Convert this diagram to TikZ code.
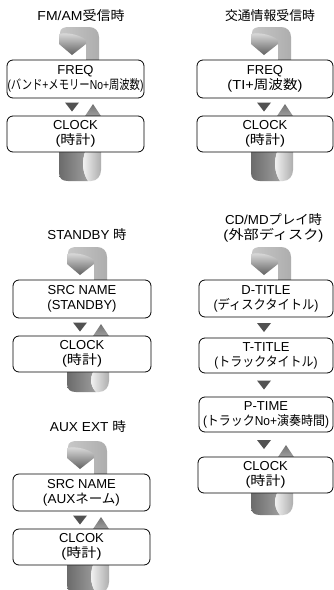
\documentclass[tikz,border=0pt]{standalone}
\usepackage{fontspec}
\setmainfont{Liberation Sans}
\newfontfamily\jp{Noto Sans CJK JP}
\usetikzlibrary{calc}
\newcommand\W[2]{\resizebox{#1pt}{\height}{#2}}
% top ribbon: #1 = arrow tip x, #2 = top of first box
\newcommand\rbtop[2]{%
  \shade[left color=black!22, middle color=black!8, right color=black!32]
    ({#1-12},{#2-23}) -- ({#1-12},{#2-27}) .. controls ({#1-12},{#2-32}) and ({#1-8},{#2-33}) .. ({#1-2},{#2-33})
    -- ({#1+17},{#2-33}) .. controls ({#1+23},{#2-33}) and ({#1+27},{#2-29}) .. ({#1+27},{#2-23})
    -- ({#1+27},{#2}) -- ({#1+14},{#2}) -- ({#1+14},{#2-20}) -- cycle;
  \shade[top color=black!12, bottom color=black!62]
    ({#1-13},{#2-26}) -- ({#1-13},{#2-16}) -- ({#1},{#2-5}) -- ({#1+14},{#2-16})
    -- ({#1+14},{#2-20}) .. controls ({#1+8},{#2-25}) and ({#1-4},{#2-28}) .. cycle;
}
% bottom ribbon: #1 = x, #2 = bottom of last box, #3 = height
\newcommand\rbbot[3]{%
  \shade[left color=black!58, right color=black!38]
    ({#1-13},{#2}) -- ({#1-13},{#2+#3-8}) .. controls ({#1-13},{#2+#3-2}) and ({#1-9},{#2+#3}) .. ({#1-4},{#2+#3})
    -- ({#1+16},{#2+#3}) .. controls ({#1+10},{#2+#3*0.7}) and ({#1+10},{#2+#3*0.3}) .. ({#1+13},{#2}) -- cycle;
  \shade[left color=black!4, right color=black!32]
    ({#1+13},{#2}) .. controls ({#1+10},{#2+#3*0.3}) and ({#1+10},{#2+#3*0.7}) .. ({#1+16},{#2+#3})
    -- ({#1+19},{#2+#3}) .. controls ({#1+25},{#2+#3}) and ({#1+29},{#2+#3-5}) .. ({#1+29},{#2+#3-11})
    -- ({#1+29},{#2}) -- cycle;
}
\newcommand\dtri[2]{\fill[black!68] ({#1-7},{#2}) -- ({#1+7},{#2}) -- ({#1},{#2+9}) -- cycle;}
\newcommand\utri[2]{\shade[top color=black!55, bottom color=black!38] ({#1-8},{#2}) -- ({#1},{#2-12}) -- ({#1+8},{#2}) -- cycle;}
\begin{document}
\begin{tikzpicture}[x=1pt,y=-1pt,
  box/.style={draw=black, line width=0.8pt, rounded corners=6pt, fill=white, align=center,
    inner sep=0pt, font=\fontsize{13}{15}\selectfont},
  ttl/.style={align=center, inner sep=0pt, font=\fontsize{13}{15}\selectfont}]
\fill[white] (0,0) rectangle (334,590);
\useasboundingbox (0,0) rectangle (334,590);

% ribbons
\rbtop{72}{60}\dtri{72}{102.5}\utri{93}{116}\rbbot{72}{152}{29}
\rbtop{264}{60}\dtri{264}{102.5}\utri{285}{116}\rbbot{264}{152}{29}
\rbtop{80}{280}\dtri{80}{322.5}\utri{101}{336}\rbbot{80}{372}{20}
\rbtop{80}{474}\dtri{80}{515.5}\utri{101}{529}\rbbot{80}{565}{28}
\rbtop{264}{280}\dtri{264}{323}\dtri{264}{380.5}\dtri{264}{440}\utri{286}{457}\rbbot{264}{493}{22}

% group 1
\node[ttl] (t1) at (81,16) {\W{87}{FM/AM{\jp 受信時}}};
\node[box, minimum width=137pt, minimum height=38pt] (g1a) at (75.5,79)
  {FREQ\\\W{136}{({\jp バンド}+{\jp メモリー}No+{\jp 周波数})}};
\node[box, minimum width=137pt, minimum height=36pt] (g1b) at (75.5,134)
  {CLOCK\\\W{40}{({\jp 時計})}};
% group 2
\node[ttl] (t2) at (270,16) {\W{90}{\jp 交通情報受信時}};
\node[box, minimum width=136pt, minimum height=38pt] (g2a) at (265,79)
  {FREQ\\\W{75}{(TI+{\jp 周波数})}};
\node[box, minimum width=136pt, minimum height=36pt] (g2b) at (265,134)
  {CLOCK\\\W{40}{({\jp 時計})}};
% group 3
\node[ttl] (t3) at (87,235) {\W{79}{STANDBY {\jp 時}}};
\node[box, minimum width=138pt, minimum height=38pt] (g3a) at (82,299)
  {SRC NAME\\(STANDBY)};
\node[box, minimum width=138pt, minimum height=36pt] (g3b) at (82,354)
  {CLOCK\\\W{40}{({\jp 時計})}};
% group 4
\node[ttl] (t4) at (88,427) {\W{76}{AUX EXT {\jp 時}}};
\node[box, minimum width=137pt, minimum height=37pt] (g4a) at (81.5,492.5)
  {SRC NAME\\\W{77}{(AUX{\jp ネーム})}};
\node[box, minimum width=137pt, minimum height=36pt] (g4b) at (81.5,547)
  {CLCOK\\\W{40}{({\jp 時計})}};
% group 5
\node[ttl] (t5) at (273.5,227.5) {\W{97}{CD/MD{\jp プレイ時}}\\\W{100}{({\jp 外部ディスク})}};
\node[box, minimum width=134pt, minimum height=37pt] (g5a) at (266,298.5)
  {D-TITLE\\\W{105}{({\jp ディスクタイトル})}};
\node[box, minimum width=134pt, minimum height=35pt] (g5b) at (266,355.5)
  {T-TITLE\\\W{103}{({\jp トラックタイトル})}};
\node[box, minimum width=134pt, minimum height=35pt] (g5c) at (266,414.5)
  {P-TIME\\\W{126}{({\jp トラック}No+{\jp 演奏時間})}};
\node[box, minimum width=135pt, minimum height=36pt] (g5d) at (265.5,475)
  {CLOCK\\\W{40}{({\jp 時計})}};
\end{tikzpicture}
\end{document}
